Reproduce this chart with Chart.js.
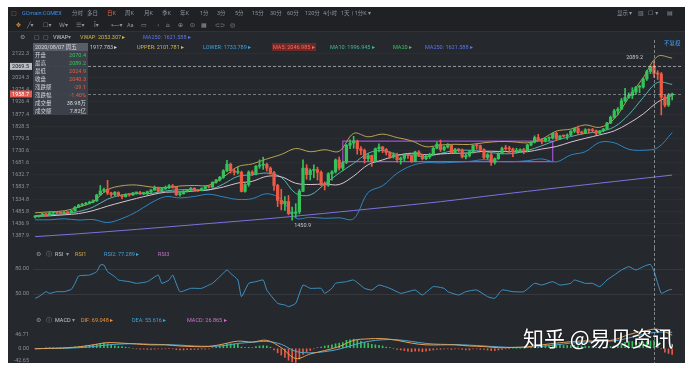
<!DOCTYPE html>
<html>
<head>
<meta charset="utf-8">
<title>GCmain COMEX</title>
<script src="https://cdn.jsdelivr.net/npm/chart.js@4.4.1/dist/chart.umd.min.js"></script>
<style>
  html, body { margin: 0; padding: 0; background: #ffffff; }
  body { position: relative; width: 692px; height: 369px; overflow: hidden;
         font-family: Roboto, "Noto Sans CJK SC", sans-serif; }
  #frame { position: absolute; left: 8px; top: 7px; width: 677px; height: 356px; background: #25282d; }
  #tools { position: absolute; left: 8px; top: 7px; width: 677px; height: 24px; background: #1f2125;
           border-bottom: 1px solid #2f3237; }
  .pane { position: absolute; left: 8px; width: 677px; }
  .t { position: absolute; font-size: 5.5px; line-height: 8px; height: 8px; white-space: nowrap; color: #8e939c; }
  .ico { font-family: "DejaVu Sans", sans-serif; font-size: 6px; }
  #tip { position: absolute; left: 33px; top: 43px; width: 55px; height: 72px; background: rgba(62, 66, 74, 0.94); }
  #tip .row { position: absolute; left: 0; width: 55px; height: 8px; line-height: 8px; font-size: 5.5px; color: #d4d7dc; }
  #tip .k { position: absolute; left: 2px; }
  #tip .v { position: absolute; right: 2px; }
  #mark { position: absolute; left: 523px; top: 325px; font-family: "Noto Sans CJK SC", sans-serif; font-size: 21px;
          line-height: 24px; color: #ffffff; white-space: nowrap; text-shadow: 0 0 2px rgba(0,0,0,0.6); }
</style>
</head>
<body>
<div id="frame"></div>
<div id="tools"></div>
<div class="pane" style="top:40px;height:208px"><canvas id="mainChart"></canvas></div>
<div class="pane" style="top:248px;height:64px"><canvas id="rsiChart"></canvas></div>
<div class="pane" style="top:312px;height:51px"><canvas id="macdChart"></canvas></div>
<div id="texts"></div>
<div id="tip"></div>
<div id="mark">知乎 @易贝资讯</div>
<script>
// daily candles, 2019/12/09 .. 2020/08/14
const openVals = [
  1463,1465,1468,1476,1471,1480,1481,1480,1479,1482,
  1481,1488,1503,1511,1515,1519,1523,1528,1552,1568,
  1575,1560,1554,1562,1550,1545,1554,1552,1560,1561,
  1558,1558,1565,1572,1582,1567,1577,1582,1589,1583,
  1553,1557,1567,1573,1579,1571,1570,1578,1586,1584,
  1603,1612,1623,1649,1676,1650,1643,1643,1566,1594,
  1644,1637,1668,1672,1675,1660,1642,1590,1530,1516,
  1526,1477,1478,1484,1567,1660,1634,1651,1654,1643,
  1596,1591,1637,1645,1693,1660,1683,1752,1761,1769,
  1738,1731,1698,1711,1688,1738,1745,1735,1723,1707,
  1713,1694,1700,1713,1710,1688,1725,1713,1698,1706,
  1716,1740,1756,1735,1745,1752,1722,1735,1733,1705,
  1711,1726,1751,1750,1735,1703,1714,1683,1698,1720,
  1739,1738,1737,1727,1727,1735,1731,1753,1764,1783,
  1775,1771,1780,1781,1800,1779,1790,1789,1793,1809,
  1820,1803,1801,1814,1812,1811,1800,1810,1817,1842,
  1865,1890,1897,1931,1944,1953,1966,1986,1986,2019,
  2049,2070.4,2040,2039,1946,1914,1954
];
const highVals = [
  1469,1471,1479,1478,1485,1484,1483,1482,1485,1484,
  1490,1505,1514,1518,1522,1527,1532,1555,1590,1580,
  1611,1563,1566,1565,1553,1557,1558,1563,1563,1567,
  1563,1568,1574,1588,1584,1580,1588,1594,1594,1584,
  1565,1570,1575,1582,1581,1575,1581,1588,1589,1605,
  1615,1627,1654,1691,1680,1656,1663,1648,1598,1649,
  1650,1670,1693,1704,1680,1665,1647,1595,1575,1545,
  1550,1503,1517,1574,1693,1674,1657,1673,1664,1649,
  1605,1642,1650,1697,1705,1688,1756,1774,1788,1773,
  1747,1737,1720,1713,1741,1758,1748,1739,1727,1722,
  1721,1705,1718,1717,1712,1728,1730,1716,1713,1720,
  1745,1765,1773,1749,1759,1754,1740,1738,1737,1717,
  1731,1753,1760,1753,1738,1719,1726,1701,1722,1745,
  1752,1748,1741,1740,1738,1740,1757,1767,1790,1796,
  1779,1782,1786,1802,1805,1791,1793,1798,1811,1823,
  1829,1809,1819,1818,1820,1813,1812,1820,1844,1870,
  1897,1904,1941,1981,1963,1984,1989,1994,2023,2054,
  2072,2089.2,2052,2045,1955,1960,1962
];
const lowVals = [
  1459,1462,1465,1466,1468,1476,1477,1475,1477,1478,
  1479,1487,1501,1507,1511,1515,1520,1526,1550,1562,
  1553,1546,1549,1546,1537,1543,1547,1550,1556,1554,
  1553,1553,1561,1570,1564,1565,1574,1577,1579,1549,
  1547,1555,1563,1569,1567,1566,1568,1575,1580,1582,
  1599,1608,1619,1646,1640,1632,1637,1564,1563,1587,
  1630,1633,1659,1655,1648,1635,1570,1505,1492,1490,
  1472,1450.9,1462,1476,1565,1615,1612,1622,1612,1589,
  1572,1587,1612,1640,1652,1650,1678,1738,1740,1716,
  1714,1680,1688,1667,1684,1725,1722,1713,1699,1700,
  1684,1676,1690,1699,1683,1685,1707,1693,1694,1699,
  1713,1737,1727,1729,1741,1718,1719,1726,1701,1697,
  1705,1720,1736,1730,1697,1695,1671,1676,1695,1717,
  1731,1722,1706,1720,1722,1718,1729,1749,1761,1769,
  1757,1765,1771,1777,1771,1775,1785,1776,1790,1803,
  1797,1795,1799,1802,1806,1795,1798,1806,1815,1839,
  1860,1874,1896,1927,1941,1940,1958,1964,1982,2013,
  2040,2024.9,2017,1874,1906,1908,1935
];
const closeVals = [
  1465,1468,1476,1471,1480,1481,1480,1479,1482,1481,
  1488,1503,1511,1515,1519,1523,1528,1552,1568,1574,
  1560,1554,1562,1550,1545,1554,1552,1560,1561,1558,
  1558,1565,1572,1582,1567,1577,1582,1589,1583,1553,
  1557,1567,1573,1579,1571,1570,1578,1586,1584,1603,
  1612,1623,1649,1676,1650,1643,1643,1566,1594,1644,
  1637,1668,1672,1675,1660,1642,1590,1530,1516,1526,
  1477,1478,1484,1567,1660,1634,1651,1654,1643,1596,
  1591,1637,1645,1693,1660,1683,1752,1761,1769,1738,
  1731,1698,1711,1688,1738,1745,1735,1723,1707,1713,
  1694,1700,1713,1710,1688,1725,1713,1698,1706,1716,
  1740,1756,1735,1745,1752,1722,1735,1733,1705,1711,
  1726,1751,1750,1735,1703,1714,1683,1698,1720,1739,
  1738,1737,1727,1727,1735,1731,1753,1764,1783,1775,
  1771,1780,1781,1800,1779,1790,1789,1793,1809,1820,
  1803,1801,1814,1812,1811,1800,1810,1817,1842,1865,
  1890,1897,1931,1944,1953,1966,1986,1986,2019,2049,
  2069,2040.3,2039,1946,1914,1954,1958.7
];

// overlay lines, read every 4th candle
const lineIdx = [0,4,8,12,16,20,24,28,32,36,40,44,48,52,56,60,64,68,72,76,80,84,88,92,96,
                 100,104,108,112,116,120,124,128,132,136,140,144,148,152,156,160,164,168,172,176];
const bollUpper = [1480,1484,1488,1503,1525,1573,1589,1592,1584,1581,1588,1590,1591,1624,1666,
                   1677,1697,1715,1739,1726,1734,1728,1800,1786,1797,1783,1770,1746,1753,1756,
                   1755,1762,1767,1766,1762,1777,1809,1817,1834,1824,1858,1944,2024,2110,2103];
const bollMid = [1466,1468,1472,1477,1489,1507,1523,1538,1552,1563,1564,1568,1573,1584,1600,
                 1607,1627,1625,1599,1594,1596,1594,1628,1674,1693,1711,1720,1714,1717,1720,
                 1721,1728,1727,1726,1726,1737,1747,1765,1780,1794,1810,1840,1878,1926,1953];
const bollLower = [1452,1452,1456,1451,1453,1441,1457,1484,1520,1545,1540,1546,1555,1544,1534,
                   1537,1557,1535,1459,1462,1458,1460,1456,1562,1589,1639,1670,1682,1681,1684,
                   1687,1694,1687,1686,1690,1697,1685,1713,1726,1764,1762,1736,1732,1742,1803];
const ma10 = [1468,1473,1476,1485,1503,1535,1552,1557,1558,1568,1573,1573,1572,1596,1627,
              1633,1640,1623,1558,1552,1596,1640,1679,1720,1731,1715,1713,1706,1719,1731,
              1732,1727,1719,1719,1731,1750,1772,1787,1800,1807,1826,1875,1944,2005,1997];
const ma250Idx = [0,16,32,48,64,80,96,112,128,144,160,176];
const ma250 = [1384,1400,1418,1437,1456,1478,1501,1525,1553,1580,1606,1632];
// drawn range box
const boxIdx = [85,85,143,143,85];
const boxVals = [1686,1769,1769,1686,1686];

// RSI2
const rsiIdx = [0,1,3,4,6,8,10,11,12,15,17,18,19,20,22,23,24,26,28,31,34,35,37,38,40,43,46,48,49,51,
                53,54,56,57,59,61,63,64,67,69,70,72,74,76,79,80,82,83,86,88,91,93,95,98,101,103,105,107,110,113,
                114,117,119,122,125,127,129,132,135,138,140,143,145,148,149,152,154,156,158,160,
                162,164,166,168,170,171,173,175,176];
const rsiVals = [44.8,46.8,52.8,50.8,52.8,52.8,55.6,62.8,71.6,72.8,76.8,84.8,84.8,76.8,70.8,66.8,66,64.8,62.8,64.8,
                 72.8,62.8,66.8,72.8,52.8,56.8,56.8,60.8,62.8,70.8,78.8,74.8,66.8,46.8,62.8,64.8,66.8,54.8,38.8,36.8,
                 34.8,38.8,60.8,56.8,56.8,50.8,56.8,62.8,64.8,66.8,56.8,54.8,60.8,56.8,50.8,52.8,54.8,48.8,58.8,56.8,
                 52.8,48.8,52.8,54.8,46.8,44.8,54.8,52.8,52.8,62.8,60.8,64.8,60.8,62.8,66.8,62.8,62.8,58.8,66.8,72.8,
                 78.8,82.8,78.8,82.8,85.6,77.3,50.8,54.8,55.6];

// MACD
const difVals = [-2,0,1,5,12,20,18,15,12,12,8,6,6,15,25,22,28,2,-36,-20,-8,6,28,33,34,
                 28,18,12,12,12,8,6,2,3,5,12,18,23,26,25,30,48,60,67,46];
const deaVals = [-1,-1,0,2,6,12,15,16,14,13,11,8,7,9,17,21,24,14,-11,-16,-12,-3,12,24,30,
                 30,24,17,14,13,11,8,5,3,4,7,12,18,22,24,26,36,49,57,56];
const histVals = [
  -2,-1,0,1,2,2,1,1,2,3,4,5,6,7,9,10,12,14,17,19,
  16,12,9,7,6,4,2,0,-2,-3,-3,-4,-4,-3,-2,-2,-2,-1,-2,-5,
  -6,-6,-5,-5,-4,-4,-3,-3,-2,2,5,8,12,16,16,15,16,4,2,3,
  2,6,8,9,8,4,-6,-16,-24,-32,-42,-48,-50,-38,-22,-14,-8,-2,2,4,
  8,10,12,16,18,20,28,30,32,28,24,20,18,14,12,10,8,4,2,0,
  -4,-6,-8,-10,-12,-10,-10,-12,-10,-8,-6,-4,-4,-2,-2,-4,-2,-2,-4,-6,
  -6,-2,-2,-4,-4,-6,-8,-8,-6,-4,-2,-1,0,0,0,1,2,4,8,9,
  10,10,11,12,12,11,10,10,10,11,9,8,8,7,5,3,2,2,4,6,
  8,12,18,21,24,24,22,20,22,24,26,27,22,-2,-14,-18,-22
];

const priceTicks = [2122.3,2073.3,2024.3,1975.4,1926.4,1877.4,1828.5,1779.5,1730.6,1681.6,
                    1632.7,1583.7,1534.8,1485.8,1436.9,1387.9];
const rsiTicks = [50, 80];
const macdTicks = [-42.65, 0, 46.71];

const crossIndex = 171;
const crossPrice = 2069.5;
const lastClose = closeVals[closeVals.length - 1];

const UP = '#34c35a';
const DOWN = '#ec5a45';

Chart.defaults.font.family = 'Roboto, "Noto Sans CJK SC", sans-serif';

function pts(xs, ys) {
  return xs.map((x, k) => ({ x: x, y: ys[k] }));
}

function line(xs, ys, color, extra) {
  return Object.assign({
    type: 'line', data: pts(xs, ys), borderColor: color, borderWidth: 1,
    pointRadius: 0, tension: 0.35, fill: false, order: 2
  }, extra || {});
}

function candleColor(ctx) {
  return closeVals[ctx.dataIndex] >= openVals[ctx.dataIndex] ? UP : DOWN;
}

function xAxis() {
  return { type: 'linear', min: -0.6, max: 179, offset: false, display: false };
}

function yAxis(min, max, ticks, digits, gridColor) {
  return {
    position: 'left', min: min, max: max,
    afterBuildTicks: s => { s.ticks = ticks.map(v => ({ value: v })); },
    afterFit: s => { s.width = 25; s.paddingTop = 0; s.paddingBottom = 0; },
    border: { display: false },
    grid: { color: gridColor, drawTicks: false },
    ticks: { color: '#8b9099', font: { size: 5.5 }, padding: 4, callback: v => v.toFixed(digits) }
  };
}

function options(pad, y) {
  return {
    responsive: true, maintainAspectRatio: false, animation: false, events: [],
    layout: { padding: pad, autoPadding: false },
    plugins: { legend: { display: false }, tooltip: { enabled: false } },
    scales: { x: xAxis(), y: y }
  };
}

const crossLine = {
  id: 'crossLine',
  afterDatasetsDraw(chart) {
    const ctx = chart.ctx;
    const px = Math.round(chart.scales.x.getPixelForValue(crossIndex)) + 0.5;
    ctx.save();
    ctx.strokeStyle = 'rgba(205,209,215,0.55)';
    ctx.lineWidth = 1;
    ctx.setLineDash([3, 2]);
    ctx.beginPath();
    ctx.moveTo(px, 0);
    ctx.lineTo(px, chart.height);
    ctx.stroke();
    ctx.restore();
  }
};

const priceMarks = {
  id: 'priceMarks',
  afterDatasetsDraw(chart) {
    const { ctx, chartArea: a, scales: { x, y } } = chart;
    ctx.save();
    ctx.lineWidth = 1;
    ctx.setLineDash([3, 2]);
    [[crossPrice, 'rgba(215,218,224,0.6)'], [lastClose, 'rgba(215,218,224,0.45)']].forEach(([v, c]) => {
      const py = Math.round(y.getPixelForValue(v)) + 0.5;
      ctx.strokeStyle = c;
      ctx.beginPath();
      ctx.moveTo(a.left, py);
      ctx.lineTo(a.right, py);
      ctx.stroke();
    });
    ctx.setLineDash([]);
    ctx.font = '5.5px Roboto';
    ctx.textBaseline = 'middle';
    [[crossPrice, '#b9bdc4', '#1d1f23'], [lastClose, '#e05d55', '#ffffff']].forEach(([v, bg, fg]) => {
      const py = y.getPixelForValue(v);
      ctx.fillStyle = bg;
      ctx.fillRect(a.left - 23, py - 3.5, 22, 7);
      ctx.fillStyle = fg;
      ctx.textAlign = 'right';
      ctx.fillText(v.toFixed(1), a.left - 4, py + 0.3);
    });
    const hi = Math.max(...highVals);
    const lo = Math.min(...lowVals);
    ctx.fillStyle = '#c3c7cd';
    ctx.textAlign = 'right';
    ctx.fillText(hi.toFixed(1), x.getPixelForValue(highVals.indexOf(hi)) - 11, y.getPixelForValue(hi) - 4);
    ctx.textAlign = 'left';
    ctx.fillText(lo.toFixed(1), x.getPixelForValue(lowVals.indexOf(lo)) + 2, y.getPixelForValue(lo) + 6);
    ctx.restore();
  }
};

new Chart(document.getElementById('mainChart'), {
  type: 'bar',
  data: {
    datasets: [
      { type: 'bar', data: openVals.map((o, i) => ({ x: i, y: [o, closeVals[i]] })),
        backgroundColor: candleColor, barThickness: 2.6, minBarLength: 1, grouped: false, order: 0 },
      { type: 'bar', data: lowVals.map((l, i) => ({ x: i, y: [l, highVals[i]] })),
        backgroundColor: candleColor, barThickness: 1, grouped: false, order: 1 },
      line(lineIdx, bollUpper, '#b8a356'),
      line(lineIdx, bollLower, '#2f86c2'),
      line(lineIdx, bollMid, '#dac3cf'),
      line(lineIdx, ma10, '#58b4b2'),
      line(ma250Idx, ma250, '#7f72dc'),
      line(boxIdx, boxVals, '#a44fd0', { tension: 0, borderWidth: 1.2 })
    ]
  },
  options: options({ top: 5, bottom: 3, left: 0, right: 2 },
    yAxis(1350.5, 2155.7, priceTicks, 1, 'rgba(255,255,255,0.03)')),
  plugins: [priceMarks, crossLine]
});

new Chart(document.getElementById('rsiChart'), {
  type: 'line',
  data: {
    datasets: [
      line(rsiIdx, rsiVals, '#3e93c4', { tension: 0.15 })
    ]
  },
  options: options({ top: 10, bottom: 2, left: 0, right: 2 },
    yAxis(30.8, 93.2, rsiTicks, 2, 'rgba(255,255,255,0.08)')),
  plugins: [crossLine]
});

new Chart(document.getElementById('macdChart'), {
  type: 'bar',
  data: {
    datasets: [
      { type: 'bar', data: histVals.map((v, i) => ({ x: i, y: v })),
        backgroundColor: ctx => histVals[ctx.dataIndex] >= 0 ? UP : DOWN,
        barThickness: 1, grouped: false, order: 3 },
      line(lineIdx, difVals, '#e9a052', { order: 1 }),
      line(lineIdx, deaVals, '#4aa7d6', { order: 2 })
    ]
  },
  options: options({ top: 14, bottom: 0, left: 0, right: 2 },
    yAxis(-51.8, 78.3, macdTicks, 2, 'rgba(0,0,0,0)')),
  plugins: [crossLine]
});

// toolbar, legends
const texts = [
  ['▢', 11, 13, '#7d828b', 'ico'],
  ['GCmain:COMEX', 22, 13, '#3d8fe8'],
  ['分时', 72, 13], ['多日', 87, 13], ['日K', 107, 13, '#f0623a'], ['周K', 125, 13], ['月K', 144, 13],
  ['季K', 162, 13], ['年K', 180, 13], ['1分', 200, 13], ['3分', 217, 13], ['5分', 235, 13],
  ['15分', 252, 13], ['30分', 270, 13], ['60分', 287, 13], ['120分', 305, 13], ['4小时', 323, 13],
  ['1天', 341, 13], ['| 1分K ▾', 352, 13],
  ['显示 ▾', 617, 13], ['▥', 638, 13, null, 'ico'], ['☐ ▾', 648, 13, null, 'ico'], ['▤', 667, 13, null, 'ico'],
  ['✥', 16, 25, '#e9a03a', 'ico'], ['╱▾', 27, 25, null, 'ico'], ['☐▾', 43, 25, null, 'ico'],
  ['W▾', 59, 25, null, 'ico'], ['☰▾', 76, 25, null, 'ico'], ['Ī▾', 94, 25, null, 'ico'],
  ['⟵▾', 111, 25, null, 'ico'], ['Aa', 127, 25], ['▭', 141, 25, null, 'ico'], ['‹', 157, 25, null, 'ico'],
  ['⌂', 166, 25, null, 'ico'], ['⊕', 178, 25, null, 'ico'], ['⊙', 190, 25, null, 'ico'],
  ['▦', 201, 25, null, 'ico'], ['⊂⊃', 215, 25, null, 'ico'], ['◎', 230, 25, null, 'ico'],
  ['⚙', 20, 37, null, 'ico'], ['▢', 34, 37, null, 'ico'], ['▢', 43, 37, null, 'ico'],
  ['VWAP', 53, 37, '#c6cad0'], ['▾', 68, 37], ['VWAP: 2053.307 ▸', 80, 37, '#d4b64c'],
  ['MA250: 1621.588 ▸', 143, 37, '#5f74e6'], ['不复权', 664, 43, '#4aa0f2'],
  ['1917.783 ▸', 90, 47, '#c9ccd1'], ['UPPER: 2101.781 ▸', 137, 47, '#d4b64c'],
  ['LOWER: 1733.789 ▸', 203, 47, '#3ea3dc'],
  ['MA5: 2046.985 ▸', 272, 47, '#ff6a55', null, 'background:rgba(170,40,35,0.55);padding:0 1px;'],
  ['MA10: 1996.945 ▸', 330, 47, '#40b7a2'], ['MA20 ▸', 393, 47, '#43c15c'],
  ['MA250: 1621.588 ▸', 425, 47, '#5f74e6'],
  ['⚙', 36, 254, null, 'ico'], ['ⓘ', 46, 254, null, 'ico'], ['RSI', 55, 254, '#c6cad0'], ['▾', 66, 254],
  ['RSI1', 75, 254, '#d4a64c'], ['RSI2: 77.289 ▸', 104, 254, '#3ea3dc'], ['RSI3', 158, 254, '#c772c9'],
  ['⚙', 36, 320, null, 'ico'], ['ⓘ', 46, 320, null, 'ico'], ['MACD', 55, 320, '#c6cad0'], ['▾', 72, 320],
  ['DIF: 69.048 ▸', 81, 320, '#e9953c'], ['DEA: 55.616 ▸', 132, 320, '#3ea3dc'],
  ['MACD: 26.865 ▸', 187, 320, '#d371d0']
];
const host = document.getElementById('texts');
texts.forEach(([s, x, y, c, cls, st]) => {
  const d = document.createElement('div');
  d.className = 't' + (cls ? ' ' + cls : '');
  d.textContent = s;
  d.style.left = x + 'px';
  d.style.top = (y - 4) + 'px';
  if (c) d.style.color = c;
  if (st) d.style.cssText += st;
  host.appendChild(d);
});

// info box for 2020/08/07
const tipRows = [
  ['2020/08/07 周五', '', ''],
  ['开盘', '2070.4', UP], ['最高', '2089.2', UP], ['最低', '2024.9', DOWN], ['收盘', '2040.3', DOWN],
  ['涨跌额', '-29.1', DOWN], ['涨跌幅', '-1.40%', DOWN], ['成交量', '38.98万', '#d4d7dc'], ['成交额', '7.82亿', '#d4d7dc']
];
const tip = document.getElementById('tip');
tipRows.forEach(([k, v, c], n) => {
  const r = document.createElement('div');
  r.className = 'row';
  r.style.top = (n * 8) + 'px';
  if (n === 0) r.style.background = 'rgba(92,97,107,0.9)';
  r.innerHTML = '<span class="k"></span><span class="v"></span>';
  r.children[0].textContent = k;
  r.children[1].textContent = v;
  if (c) r.children[1].style.color = c;
  tip.appendChild(r);
});
</script>
</body>
</html>
